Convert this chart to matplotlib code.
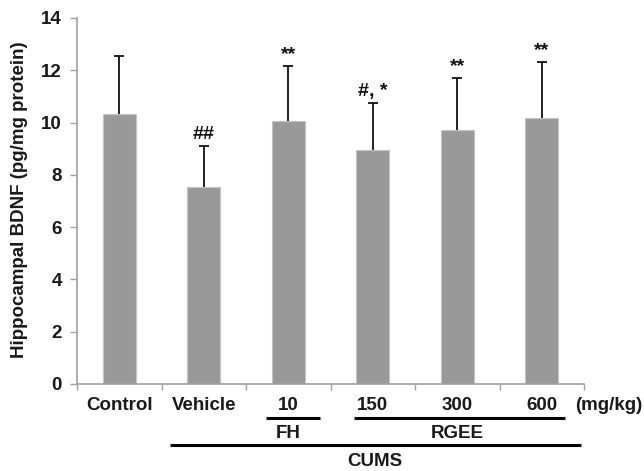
import numpy as np
import matplotlib
matplotlib.use('Agg')
import matplotlib.pyplot as plt
import matplotlib.transforms as mtransforms

plt.rcParams['font.family'] = ['Liberation Sans', 'DejaVu Sans']
plt.rcParams['font.weight'] = 'bold'

# data
groups = ['Control', 'Vehicle', '10', '150', '300', '600']
means = [10.33, 7.54, 10.07, 8.96, 9.72, 10.16]
sds = [2.21, 1.58, 2.10, 1.80, 1.99, 2.17]
marks = ['', '##', '**', '#, *', '**', '**']

fig = plt.figure(figsize=(6.44, 4.71), dpi=100)
ax = fig.add_axes([77/644, 1-384/471, 507/644, 366/471])

x = np.arange(len(groups))
ax.bar(x, means, width=0.39, color='#999999', edgecolor='#c4c4c4', linewidth=0.8, zorder=2)
eb = ax.errorbar(x, means, yerr=[np.zeros(len(sds)), sds], fmt='none', ecolor='#111111',
                 elinewidth=1.3, capsize=3.6, capthick=1.3, zorder=3)
eb[1][0].set_visible(False)  # no cap at bar top

for xi, m, s, t in zip(x, means, sds, marks):
    if t:
        ax.annotate(t, (xi, m + s), xytext=(0, 2), textcoords='offset points',
                    ha='center', va='bottom', fontsize=14, fontweight='bold', color='#111111')

ax.set_xlim(-0.5, 5.5)
ax.set_ylim(0, 14)
ax.set_yticks(np.arange(0, 15, 2))
ax.tick_params(axis='y', labelsize=13.5, length=5, color='#a0a0a0', width=1, pad=6,
               labelcolor='#1a1a1a')
ax.set_xticks(np.arange(-0.5, 6, 1))
ax.set_xticklabels([])
ax.tick_params(axis='x', length=4, color='#a0a0a0', width=1, direction='out')
for sp in ['top', 'right']:
    ax.spines[sp].set_visible(False)
for sp in ['left', 'bottom']:
    ax.spines[sp].set_color('#a0a0a0')
    ax.spines[sp].set_linewidth(1.2)

ax.set_ylabel('Hippocampal BDNF (pg/mg protein)', fontsize=13.5, fontweight='bold', va='center',
              color='#1a1a1a')
ax.yaxis.set_label_coords((20-77)/507, (384-200)/366)

# group labels under the axis
trans = mtransforms.blended_transform_factory(ax.transData, fig.transFigure)
def fy(py):
    return 1 - py/471

fs = 13.5
for xi, g in zip(x, groups):
    ax.text(xi, fy(406), g, transform=trans, ha='center', va='center', fontsize=fs,
            fontweight='bold', color='#1a1a1a', clip_on=False)
ax.text(5.4, fy(405), '(mg/kg)', transform=trans, ha='left', va='center', fontsize=fs,
        fontweight='bold', color='#1a1a1a', clip_on=False)

ax.plot([1.74, 2.37], [fy(418), fy(418)], transform=trans, color='black', lw=2.2, clip_on=False, solid_capstyle='butt')
ax.plot([2.78, 5.27], [fy(418), fy(418)], transform=trans, color='black', lw=2.2, clip_on=False, solid_capstyle='butt')
ax.text(2, fy(433), 'FH', transform=trans, ha='center', va='center', fontsize=fs, fontweight='bold', color='#1a1a1a')
ax.text(4, fy(433), 'RGEE', transform=trans, ha='center', va='center', fontsize=fs, fontweight='bold', color='#1a1a1a')
ax.plot([0.6, 5.46], [fy(445), fy(445)], transform=trans, color='black', lw=2.2, clip_on=False, solid_capstyle='butt')
ax.text(3.03, fy(462), 'CUMS', transform=trans, ha='center', va='center', fontsize=fs, fontweight='bold', color='#1a1a1a')

fig.savefig('out.png', dpi=100)
